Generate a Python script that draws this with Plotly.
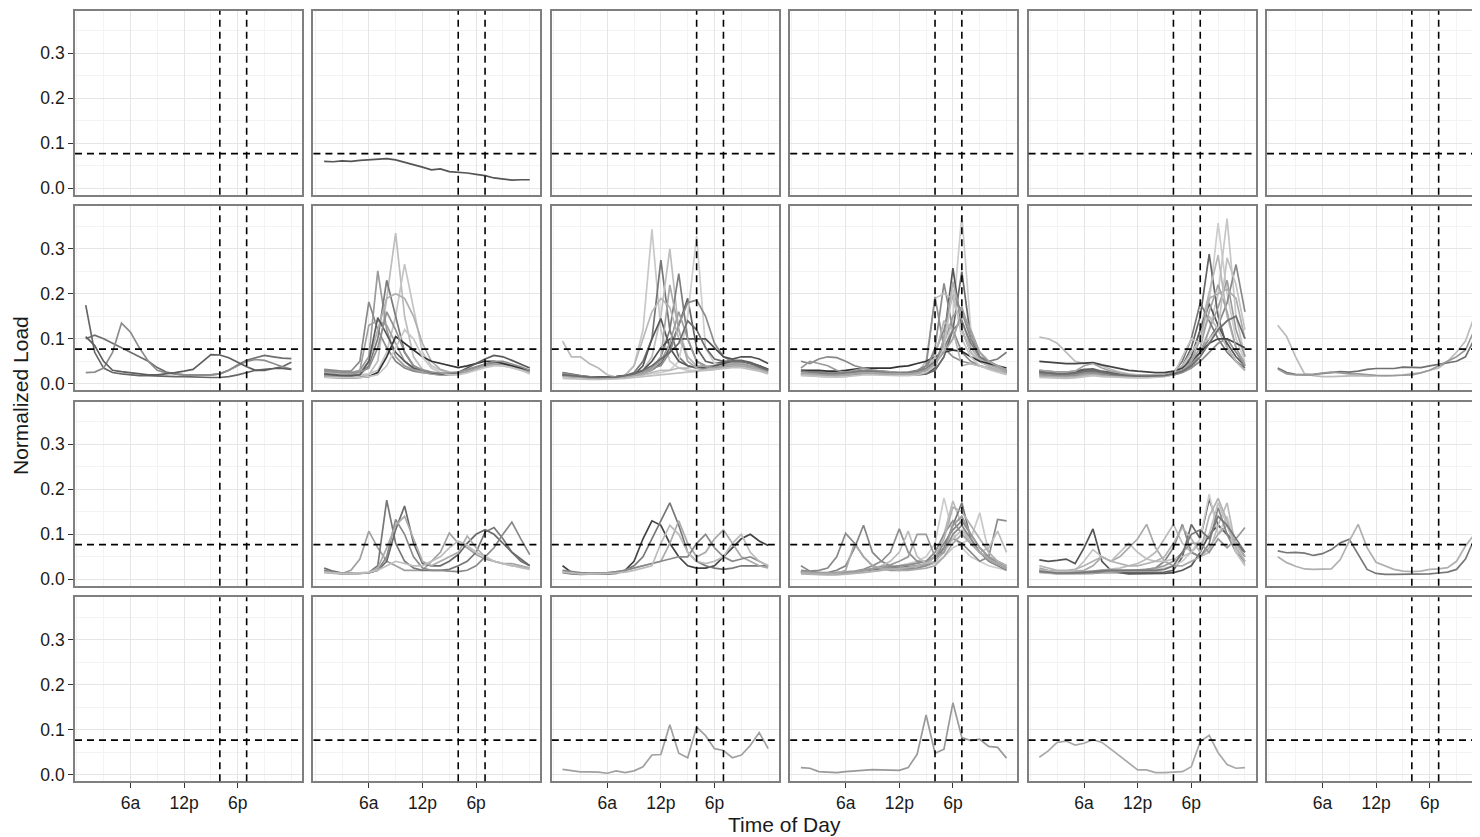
import plotly.graph_objects as go

# hourly normalized load profiles, one facet per (row, col)
hours = list(range(1, 25))
tick_hours = [6, 12, 18]
tick_labels = ["6a", "12p", "6p"]
minor_hours = [0, 3, 9, 15, 21, 24]
y_ticks = [0.0, 0.1, 0.2, 0.3]
y_labels = ["0.0", "0.1", "0.2", "0.3"]
y_minor = [0.05, 0.15, 0.25, 0.35]
peak_window = [16, 19]
avg_load = 0.077

load_r0c1 = [
    [0.060, 0.059, 0.061, 0.060, 0.062, 0.063, 0.065, 0.066, 0.063, 0.058, 0.052, 0.047,
     0.041, 0.043, 0.037, 0.036, 0.034, 0.031, 0.028, 0.023, 0.020, 0.018, 0.019, 0.019],
]
shade_r0c1 = ["#555555"]

load_r1c0 = [
    [0.175, 0.07, 0.035, 0.025, 0.022, 0.02, 0.018, 0.018, 0.017, 0.017, 0.016, 0.016,
     0.015, 0.015, 0.014, 0.014, 0.016, 0.02, 0.025, 0.03, 0.032, 0.034, 0.038, 0.048],
    [0.1, 0.108, 0.1, 0.09, 0.08, 0.07, 0.06, 0.05, 0.036, 0.026, 0.022, 0.02,
     0.02, 0.02, 0.02, 0.022, 0.03, 0.042, 0.052, 0.058, 0.063, 0.06, 0.057, 0.056],
    [0.025, 0.026, 0.035, 0.07, 0.135, 0.115, 0.08, 0.05, 0.03, 0.024, 0.022, 0.02,
     0.02, 0.02, 0.02, 0.022, 0.03, 0.04, 0.05, 0.054, 0.052, 0.045, 0.038, 0.033],
    [0.105, 0.085, 0.05, 0.03, 0.027, 0.025, 0.022, 0.02, 0.02, 0.022, 0.025, 0.028,
     0.032, 0.048, 0.065, 0.064, 0.058, 0.048, 0.038, 0.03, 0.03, 0.034, 0.034, 0.032],
]
shade_r1c0 = ["#666666", "#6e6e6e", "#8c8c8c", "#5e5e5e"]

load_r1c1 = [
    [0.02, 0.018, 0.016, 0.016, 0.016, 0.02, 0.05, 0.19, 0.335, 0.15, 0.06, 0.032,
     0.026, 0.022, 0.02, 0.022, 0.026, 0.032, 0.038, 0.042, 0.04, 0.036, 0.03, 0.024],
    [0.025, 0.022, 0.02, 0.02, 0.02, 0.022, 0.03, 0.07, 0.15, 0.266, 0.17, 0.07,
     0.04, 0.03, 0.025, 0.025, 0.028, 0.034, 0.04, 0.045, 0.045, 0.04, 0.035, 0.03],
    [0.03, 0.028, 0.025, 0.025, 0.03, 0.06, 0.251, 0.12, 0.06, 0.04, 0.03, 0.026,
     0.024, 0.022, 0.022, 0.024, 0.028, 0.034, 0.04, 0.044, 0.044, 0.04, 0.034, 0.028],
    [0.032, 0.03, 0.028, 0.028, 0.05, 0.182, 0.12, 0.08, 0.05, 0.035, 0.028, 0.025,
     0.022, 0.02, 0.02, 0.022, 0.028, 0.035, 0.042, 0.046, 0.045, 0.04, 0.034, 0.026],
    [0.02, 0.02, 0.018, 0.018, 0.02, 0.04, 0.1, 0.23, 0.15, 0.07, 0.04, 0.03,
     0.025, 0.022, 0.02, 0.022, 0.028, 0.036, 0.044, 0.048, 0.046, 0.04, 0.034, 0.028],
    [0.025, 0.022, 0.02, 0.02, 0.025, 0.05, 0.12, 0.19, 0.2, 0.19, 0.15, 0.09,
     0.05, 0.032, 0.026, 0.025, 0.028, 0.034, 0.04, 0.044, 0.044, 0.04, 0.034, 0.026],
    [0.02, 0.02, 0.018, 0.02, 0.03, 0.13, 0.14, 0.13, 0.09, 0.05, 0.032, 0.026,
     0.022, 0.02, 0.02, 0.022, 0.026, 0.032, 0.038, 0.042, 0.042, 0.038, 0.032, 0.025],
    [0.015, 0.014, 0.013, 0.013, 0.014, 0.016, 0.025, 0.06, 0.105, 0.09, 0.075, 0.06,
     0.05, 0.045, 0.04, 0.036, 0.04, 0.045, 0.05, 0.05, 0.045, 0.04, 0.035, 0.03],
    [0.022, 0.02, 0.018, 0.018, 0.02, 0.05, 0.147, 0.11, 0.07, 0.05, 0.035, 0.03,
     0.025, 0.022, 0.022, 0.025, 0.035, 0.045, 0.055, 0.063, 0.06, 0.052, 0.044, 0.035],
    [0.015, 0.014, 0.013, 0.013, 0.014, 0.016, 0.02, 0.04, 0.08, 0.12, 0.1, 0.06,
     0.035, 0.025, 0.02, 0.02, 0.024, 0.03, 0.036, 0.04, 0.04, 0.036, 0.03, 0.022],
    [0.028, 0.026, 0.024, 0.024, 0.026, 0.035, 0.08, 0.16, 0.12, 0.07, 0.04, 0.03,
     0.026, 0.024, 0.024, 0.026, 0.032, 0.038, 0.045, 0.05, 0.05, 0.044, 0.038, 0.03],
]
shade_r1c1 = ["#bdbdbd", "#c4c4c4", "#9a9a9a", "#8a8a8a", "#7a7a7a", "#b0b0b0",
              "#a0a0a0", "#353535", "#5a5a5a", "#c8c8c8", "#909090"]

load_r1c2 = [
    [0.02, 0.017, 0.015, 0.013, 0.012, 0.013, 0.015, 0.02, 0.04, 0.12, 0.343, 0.12,
     0.05, 0.035, 0.03, 0.03, 0.032, 0.035, 0.04, 0.045, 0.045, 0.04, 0.035, 0.028],
    [0.02, 0.018, 0.015, 0.013, 0.012, 0.012, 0.014, 0.018, 0.025, 0.05, 0.1, 0.275,
     0.12, 0.06, 0.04, 0.035, 0.035, 0.038, 0.042, 0.045, 0.045, 0.04, 0.035, 0.03],
    [0.018, 0.016, 0.014, 0.013, 0.012, 0.012, 0.013, 0.016, 0.02, 0.03, 0.06, 0.15,
     0.3, 0.12, 0.06, 0.04, 0.035, 0.035, 0.038, 0.04, 0.04, 0.036, 0.032, 0.026],
    [0.022, 0.019, 0.016, 0.014, 0.013, 0.013, 0.014, 0.016, 0.02, 0.025, 0.035, 0.06,
     0.12, 0.245, 0.1, 0.05, 0.04, 0.04, 0.045, 0.05, 0.05, 0.045, 0.04, 0.03],
    [0.025, 0.021, 0.018, 0.016, 0.015, 0.015, 0.016, 0.018, 0.02, 0.025, 0.03, 0.045,
     0.08, 0.13, 0.19, 0.08, 0.05, 0.045, 0.048, 0.052, 0.052, 0.048, 0.04, 0.032],
    [0.02, 0.018, 0.016, 0.014, 0.013, 0.013, 0.014, 0.016, 0.018, 0.02, 0.022, 0.025,
     0.03, 0.05, 0.15, 0.328, 0.08, 0.045, 0.04, 0.042, 0.042, 0.038, 0.032, 0.025],
    [0.024, 0.02, 0.017, 0.015, 0.014, 0.014, 0.015, 0.018, 0.022, 0.028, 0.035, 0.04,
     0.07, 0.13, 0.18, 0.186, 0.15, 0.09, 0.06, 0.05, 0.05, 0.045, 0.04, 0.03],
    [0.02, 0.018, 0.016, 0.014, 0.013, 0.013, 0.014, 0.018, 0.04, 0.1, 0.16, 0.19,
     0.17, 0.1, 0.06, 0.04, 0.035, 0.036, 0.04, 0.044, 0.044, 0.04, 0.034, 0.028],
    [0.02, 0.018, 0.016, 0.015, 0.015, 0.015, 0.016, 0.018, 0.022, 0.03, 0.05, 0.08,
     0.1, 0.1, 0.1, 0.1, 0.1, 0.08, 0.06, 0.055, 0.06, 0.06, 0.055, 0.045],
    [0.095, 0.06, 0.06, 0.045, 0.035, 0.02, 0.015, 0.015, 0.018, 0.02, 0.025, 0.03,
     0.03, 0.035, 0.035, 0.04, 0.04, 0.04, 0.045, 0.045, 0.045, 0.04, 0.035, 0.03],
    [0.018, 0.016, 0.014, 0.013, 0.013, 0.013, 0.014, 0.016, 0.02, 0.04, 0.1, 0.145,
     0.08, 0.05, 0.04, 0.036, 0.036, 0.04, 0.045, 0.05, 0.05, 0.046, 0.04, 0.032],
    [0.02, 0.018, 0.016, 0.014, 0.013, 0.013, 0.014, 0.016, 0.02, 0.025, 0.035, 0.05,
     0.09, 0.16, 0.1, 0.05, 0.038, 0.036, 0.04, 0.044, 0.044, 0.04, 0.034, 0.028],
    [0.016, 0.015, 0.014, 0.013, 0.012, 0.012, 0.013, 0.015, 0.018, 0.022, 0.03, 0.06,
     0.22, 0.12, 0.05, 0.035, 0.03, 0.032, 0.036, 0.04, 0.04, 0.036, 0.03, 0.024],
    [0.012, 0.011, 0.01, 0.01, 0.01, 0.01, 0.011, 0.012, 0.014, 0.016, 0.018, 0.02,
     0.022, 0.024, 0.026, 0.028, 0.03, 0.032, 0.034, 0.036, 0.036, 0.032, 0.028, 0.022],
    [0.02, 0.018, 0.016, 0.015, 0.014, 0.014, 0.015, 0.018, 0.022, 0.03, 0.04, 0.055,
     0.07, 0.09, 0.14, 0.12, 0.08, 0.055, 0.05, 0.05, 0.05, 0.045, 0.038, 0.03],
]
shade_r1c2 = ["#c8c8c8", "#767676", "#bebebe", "#7e7e7e", "#646464", "#cfcfcf",
              "#8c8c8c", "#b8b8b8", "#505050", "#bababa", "#585858", "#9c9c9c",
              "#a8a8a8", "#c0c0c0", "#6c6c6c"]

load_r1c3 = [
    [0.02, 0.018, 0.016, 0.015, 0.015, 0.016, 0.02, 0.022, 0.022, 0.022, 0.02, 0.02,
     0.02, 0.02, 0.022, 0.03, 0.06, 0.15, 0.375, 0.12, 0.06, 0.04, 0.03, 0.025],
    [0.025, 0.022, 0.02, 0.02, 0.02, 0.022, 0.025, 0.026, 0.025, 0.024, 0.022, 0.022,
     0.022, 0.022, 0.022, 0.035, 0.1, 0.257, 0.12, 0.07, 0.05, 0.04, 0.032, 0.026],
    [0.022, 0.02, 0.019, 0.018, 0.018, 0.02, 0.022, 0.024, 0.024, 0.022, 0.02, 0.02,
     0.02, 0.02, 0.022, 0.03, 0.06, 0.12, 0.249, 0.1, 0.06, 0.045, 0.036, 0.028],
    [0.03, 0.028, 0.026, 0.025, 0.025, 0.026, 0.028, 0.03, 0.03, 0.028, 0.026, 0.025,
     0.025, 0.026, 0.03, 0.08, 0.223, 0.12, 0.07, 0.05, 0.04, 0.035, 0.03, 0.024],
    [0.024, 0.022, 0.02, 0.019, 0.019, 0.02, 0.022, 0.024, 0.024, 0.023, 0.022, 0.022,
     0.022, 0.024, 0.05, 0.19, 0.2, 0.19, 0.12, 0.07, 0.05, 0.04, 0.032, 0.025],
    [0.02, 0.019, 0.018, 0.017, 0.017, 0.018, 0.02, 0.022, 0.022, 0.021, 0.02, 0.02,
     0.02, 0.022, 0.04, 0.193, 0.08, 0.06, 0.05, 0.045, 0.04, 0.035, 0.03, 0.024],
    [0.026, 0.024, 0.022, 0.021, 0.021, 0.022, 0.024, 0.026, 0.026, 0.025, 0.024, 0.024,
     0.024, 0.025, 0.028, 0.04, 0.1, 0.227, 0.14, 0.08, 0.055, 0.045, 0.036, 0.028],
    [0.03, 0.03, 0.03, 0.028, 0.028, 0.03, 0.032, 0.035, 0.035, 0.035, 0.035, 0.038,
     0.04, 0.045, 0.05, 0.06, 0.07, 0.075, 0.072, 0.06, 0.05, 0.045, 0.04, 0.035],
    [0.05, 0.045, 0.055, 0.06, 0.058, 0.05, 0.04, 0.035, 0.03, 0.028, 0.025, 0.025,
     0.026, 0.03, 0.04, 0.07, 0.12, 0.2, 0.16, 0.1, 0.07, 0.05, 0.04, 0.03],
    [0.035, 0.05, 0.045, 0.04, 0.03, 0.025, 0.03, 0.035, 0.03, 0.028, 0.026, 0.025,
     0.025, 0.026, 0.03, 0.05, 0.09, 0.15, 0.17, 0.11, 0.07, 0.05, 0.04, 0.03],
    [0.022, 0.02, 0.019, 0.018, 0.018, 0.02, 0.024, 0.026, 0.025, 0.024, 0.022, 0.022,
     0.022, 0.024, 0.03, 0.06, 0.14, 0.12, 0.04, 0.045, 0.04, 0.036, 0.03, 0.022],
    [0.028, 0.026, 0.024, 0.022, 0.022, 0.024, 0.026, 0.028, 0.028, 0.026, 0.024, 0.024,
     0.025, 0.028, 0.034, 0.05, 0.08, 0.12, 0.14, 0.09, 0.06, 0.05, 0.055, 0.07],
    [0.018, 0.017, 0.016, 0.015, 0.015, 0.016, 0.018, 0.02, 0.02, 0.019, 0.018, 0.018,
     0.018, 0.02, 0.025, 0.04, 0.08, 0.21, 0.1, 0.06, 0.04, 0.032, 0.026, 0.02],
    [0.024, 0.022, 0.02, 0.019, 0.019, 0.02, 0.022, 0.024, 0.024, 0.023, 0.022, 0.022,
     0.022, 0.024, 0.03, 0.045, 0.07, 0.1, 0.16, 0.12, 0.07, 0.05, 0.04, 0.03],
]
shade_r1c3 = ["#cccccc", "#555555", "#676767", "#8a8a8a", "#bdbdbd", "#8f8f8f",
              "#ababab", "#333333", "#888888", "#9a9a9a", "#b5b5b5", "#7d7d7d",
              "#c4c4c4", "#a2a2a2"]

load_r1c4 = [
    [0.02, 0.018, 0.016, 0.016, 0.018, 0.022, 0.024, 0.02, 0.018, 0.016, 0.015, 0.015,
     0.015, 0.016, 0.018, 0.022, 0.03, 0.05, 0.1, 0.18, 0.357, 0.2, 0.1, 0.05],
    [0.022, 0.02, 0.018, 0.018, 0.02, 0.025, 0.026, 0.022, 0.02, 0.018, 0.016, 0.016,
     0.016, 0.017, 0.018, 0.02, 0.025, 0.035, 0.06, 0.12, 0.2, 0.367, 0.15, 0.06],
    [0.03, 0.028, 0.026, 0.026, 0.028, 0.032, 0.033, 0.028, 0.025, 0.022, 0.02, 0.019,
     0.018, 0.018, 0.02, 0.025, 0.04, 0.08, 0.15, 0.288, 0.15, 0.08, 0.05, 0.035],
    [0.025, 0.022, 0.02, 0.02, 0.022, 0.026, 0.028, 0.024, 0.021, 0.019, 0.018, 0.017,
     0.017, 0.018, 0.019, 0.022, 0.03, 0.045, 0.07, 0.1, 0.13, 0.18, 0.265, 0.16],
    [0.018, 0.017, 0.016, 0.016, 0.017, 0.02, 0.022, 0.02, 0.018, 0.016, 0.015, 0.015,
     0.015, 0.016, 0.018, 0.022, 0.035, 0.06, 0.12, 0.2, 0.286, 0.15, 0.08, 0.04],
    [0.028, 0.026, 0.024, 0.024, 0.026, 0.03, 0.03, 0.026, 0.023, 0.021, 0.02, 0.019,
     0.018, 0.018, 0.019, 0.022, 0.03, 0.06, 0.12, 0.178, 0.13, 0.09, 0.06, 0.04],
    [0.02, 0.018, 0.017, 0.017, 0.018, 0.022, 0.024, 0.021, 0.019, 0.017, 0.016, 0.016,
     0.016, 0.017, 0.018, 0.02, 0.026, 0.04, 0.07, 0.12, 0.17, 0.23, 0.12, 0.06],
    [0.024, 0.022, 0.02, 0.02, 0.022, 0.026, 0.027, 0.023, 0.02, 0.018, 0.017, 0.016,
     0.016, 0.017, 0.019, 0.025, 0.05, 0.1, 0.18, 0.14, 0.1, 0.07, 0.05, 0.03],
    [0.016, 0.015, 0.014, 0.014, 0.015, 0.018, 0.02, 0.018, 0.016, 0.015, 0.014, 0.014,
     0.014, 0.015, 0.017, 0.02, 0.03, 0.05, 0.1, 0.19, 0.2, 0.21, 0.19, 0.1],
    [0.022, 0.02, 0.019, 0.019, 0.02, 0.024, 0.025, 0.022, 0.02, 0.018, 0.016, 0.016,
     0.016, 0.016, 0.018, 0.02, 0.025, 0.035, 0.05, 0.07, 0.09, 0.1, 0.07, 0.04],
    [0.104, 0.1, 0.09, 0.07, 0.05, 0.045, 0.046, 0.04, 0.032, 0.026, 0.022, 0.02,
     0.019, 0.019, 0.02, 0.025, 0.04, 0.07, 0.1, 0.15, 0.12, 0.08, 0.05, 0.03],
    [0.05, 0.048, 0.046, 0.045, 0.045, 0.046, 0.047, 0.042, 0.038, 0.034, 0.03, 0.028,
     0.026, 0.025, 0.025, 0.028, 0.035, 0.05, 0.07, 0.09, 0.1, 0.1, 0.09, 0.08],
    [0.03, 0.028, 0.026, 0.026, 0.028, 0.04, 0.045, 0.035, 0.028, 0.024, 0.02, 0.018,
     0.017, 0.017, 0.018, 0.022, 0.03, 0.05, 0.08, 0.16, 0.22, 0.16, 0.08, 0.045],
    [0.014, 0.013, 0.012, 0.012, 0.013, 0.016, 0.018, 0.016, 0.015, 0.014, 0.013, 0.013,
     0.013, 0.014, 0.016, 0.02, 0.06, 0.1, 0.09, 0.1, 0.12, 0.28, 0.22, 0.12],
    [0.026, 0.024, 0.022, 0.022, 0.024, 0.028, 0.03, 0.026, 0.022, 0.02, 0.018, 0.017,
     0.017, 0.017, 0.018, 0.022, 0.028, 0.04, 0.06, 0.09, 0.12, 0.14, 0.15, 0.1],
]
shade_r1c4 = ["#cccccc", "#c6c6c6", "#666666", "#888888", "#b8b8b8", "#575757",
              "#9c9c9c", "#7a7a7a", "#acacac", "#8e8e8e", "#bbbbbb", "#444444",
              "#a4a4a4", "#c2c2c2", "#6e6e6e"]

load_r1c5 = [
    [0.13, 0.105, 0.06, 0.022, 0.018, 0.016, 0.016, 0.017, 0.018, 0.018, 0.017, 0.017,
     0.018, 0.018, 0.02, 0.022, 0.025, 0.03, 0.035, 0.05, 0.07, 0.095, 0.15, 0.34],
    [0.035, 0.025, 0.021, 0.02, 0.021, 0.023, 0.025, 0.027, 0.026, 0.028, 0.032, 0.034,
     0.034, 0.034, 0.037, 0.036, 0.036, 0.04, 0.043, 0.047, 0.05, 0.06, 0.1, 0.3],
    [0.033, 0.022, 0.02, 0.02, 0.021, 0.024, 0.026, 0.024, 0.022, 0.022, 0.02, 0.019,
     0.018, 0.018, 0.019, 0.02, 0.024, 0.03, 0.04, 0.05, 0.06, 0.075, 0.12, 0.32],
]
shade_r1c5 = ["#bbbbbb", "#707070", "#999999"]

load_r2c1 = [
    [0.02, 0.015, 0.013, 0.02, 0.045, 0.107, 0.07, 0.04, 0.03, 0.02, 0.02, 0.02,
     0.04, 0.06, 0.103, 0.08, 0.07, 0.055, 0.045, 0.04, 0.035, 0.035, 0.03, 0.025],
    [0.02, 0.015, 0.012, 0.012, 0.013, 0.015, 0.03, 0.176, 0.08, 0.04, 0.025, 0.02,
     0.02, 0.02, 0.022, 0.03, 0.04, 0.06, 0.105, 0.115, 0.09, 0.06, 0.04, 0.03],
    [0.025, 0.018, 0.014, 0.013, 0.013, 0.014, 0.02, 0.04, 0.11, 0.163, 0.08, 0.035,
     0.03, 0.03, 0.04, 0.055, 0.08, 0.1, 0.11, 0.1, 0.08, 0.06, 0.045, 0.03],
    [0.018, 0.015, 0.013, 0.013, 0.014, 0.015, 0.02, 0.05, 0.133, 0.1, 0.05, 0.025,
     0.02, 0.02, 0.018, 0.017, 0.02, 0.03, 0.05, 0.07, 0.1, 0.127, 0.09, 0.055],
    [0.015, 0.013, 0.012, 0.012, 0.013, 0.015, 0.025, 0.07, 0.12, 0.14, 0.09, 0.04,
     0.03, 0.04, 0.05, 0.06, 0.096, 0.07, 0.05, 0.04, 0.035, 0.03, 0.028, 0.025],
    [0.016, 0.014, 0.013, 0.013, 0.014, 0.016, 0.02, 0.03, 0.04, 0.035, 0.03, 0.03,
     0.04, 0.05, 0.07, 0.085, 0.075, 0.06, 0.05, 0.04, 0.035, 0.03, 0.026, 0.022],
]
shade_r2c1 = ["#a0a0a0", "#777777", "#6a6a6a", "#8a8a8a", "#acacac", "#bdbdbd"]

load_r2c2 = [
    [0.03, 0.015, 0.013, 0.012, 0.012, 0.012, 0.013, 0.02, 0.04, 0.09, 0.13, 0.12,
     0.08, 0.05, 0.03, 0.025, 0.025, 0.03, 0.05, 0.07, 0.09, 0.1, 0.085, 0.075],
    [0.015, 0.012, 0.011, 0.011, 0.012, 0.013, 0.015, 0.02, 0.03, 0.05, 0.09, 0.13,
     0.17, 0.12, 0.06, 0.04, 0.03, 0.025, 0.022, 0.025, 0.03, 0.03, 0.03, 0.03],
    [0.018, 0.015, 0.013, 0.012, 0.012, 0.013, 0.015, 0.02, 0.025, 0.03, 0.035, 0.04,
     0.08, 0.13, 0.08, 0.05, 0.06, 0.09, 0.11, 0.08, 0.05, 0.04, 0.03, 0.025],
    [0.02, 0.017, 0.015, 0.014, 0.014, 0.015, 0.017, 0.02, 0.025, 0.03, 0.035, 0.04,
     0.045, 0.05, 0.05, 0.08, 0.1, 0.07, 0.05, 0.04, 0.045, 0.05, 0.04, 0.03],
    [0.016, 0.014, 0.012, 0.012, 0.012, 0.013, 0.014, 0.016, 0.02, 0.025, 0.03, 0.08,
     0.12, 0.1, 0.06, 0.04, 0.035, 0.04, 0.05, 0.08, 0.1, 0.06, 0.04, 0.03],
]
shade_r2c2 = ["#444444", "#777777", "#aaaaaa", "#888888", "#bbbbbb"]

load_r2c3 = [
    [0.015, 0.013, 0.012, 0.012, 0.012, 0.013, 0.015, 0.018, 0.02, 0.022, 0.025, 0.03,
     0.035, 0.04, 0.05, 0.08, 0.181, 0.1, 0.07, 0.05, 0.04, 0.03, 0.025, 0.02],
    [0.018, 0.015, 0.013, 0.013, 0.013, 0.014, 0.016, 0.02, 0.022, 0.024, 0.026, 0.03,
     0.032, 0.035, 0.04, 0.06, 0.1, 0.174, 0.12, 0.08, 0.06, 0.045, 0.035, 0.025],
    [0.016, 0.014, 0.012, 0.012, 0.012, 0.013, 0.015, 0.018, 0.02, 0.022, 0.024, 0.026,
     0.028, 0.03, 0.032, 0.04, 0.07, 0.12, 0.17, 0.09, 0.06, 0.045, 0.035, 0.025],
    [0.014, 0.012, 0.011, 0.011, 0.011, 0.012, 0.014, 0.016, 0.018, 0.02, 0.022, 0.024,
     0.026, 0.028, 0.03, 0.035, 0.05, 0.07, 0.08, 0.09, 0.148, 0.06, 0.04, 0.03],
    [0.018, 0.016, 0.014, 0.013, 0.013, 0.014, 0.016, 0.02, 0.024, 0.026, 0.028, 0.03,
     0.032, 0.036, 0.04, 0.05, 0.07, 0.09, 0.08, 0.06, 0.04, 0.05, 0.133, 0.13],
    [0.03, 0.018, 0.02, 0.025, 0.05, 0.102, 0.08, 0.05, 0.03, 0.025, 0.02, 0.02,
     0.022, 0.025, 0.03, 0.04, 0.06, 0.1, 0.12, 0.09, 0.06, 0.04, 0.03, 0.02],
    [0.02, 0.017, 0.015, 0.015, 0.02, 0.03, 0.07, 0.12, 0.06, 0.04, 0.03, 0.025,
     0.025, 0.03, 0.035, 0.05, 0.08, 0.11, 0.13, 0.1, 0.07, 0.05, 0.035, 0.025],
    [0.018, 0.016, 0.014, 0.014, 0.015, 0.016, 0.018, 0.022, 0.03, 0.04, 0.06, 0.112,
     0.06, 0.04, 0.04, 0.06, 0.1, 0.13, 0.1, 0.08, 0.06, 0.045, 0.035, 0.025],
    [0.016, 0.014, 0.013, 0.013, 0.014, 0.015, 0.017, 0.02, 0.024, 0.03, 0.04, 0.06,
     0.107, 0.05, 0.035, 0.04, 0.06, 0.09, 0.11, 0.08, 0.06, 0.07, 0.107, 0.06],
    [0.017, 0.015, 0.013, 0.013, 0.014, 0.015, 0.017, 0.02, 0.024, 0.028, 0.032, 0.04,
     0.05, 0.1, 0.1, 0.05, 0.06, 0.12, 0.14, 0.1, 0.07, 0.05, 0.04, 0.03],
    [0.015, 0.013, 0.012, 0.012, 0.013, 0.02, 0.08, 0.05, 0.03, 0.025, 0.022, 0.02,
     0.02, 0.022, 0.025, 0.03, 0.05, 0.08, 0.1, 0.08, 0.06, 0.045, 0.035, 0.025],
    [0.012, 0.011, 0.01, 0.01, 0.01, 0.011, 0.013, 0.015, 0.018, 0.02, 0.022, 0.024,
     0.026, 0.03, 0.035, 0.05, 0.09, 0.16, 0.15, 0.12, 0.09, 0.06, 0.04, 0.03],
]
shade_r2c3 = ["#cccccc", "#bbbbbb", "#777777", "#c8c8c8", "#8c8c8c", "#8a8a8a",
              "#858585", "#8f8f8f", "#bdbdbd", "#9a9a9a", "#aaaaaa", "#b0b0b0"]

load_r2c4 = [
    [0.043, 0.04, 0.042, 0.045, 0.035, 0.07, 0.112, 0.04, 0.02, 0.015, 0.012, 0.012,
     0.012, 0.012, 0.013, 0.015, 0.02, 0.03, 0.06, 0.1, 0.12, 0.1, 0.08, 0.05],
    [0.02, 0.015, 0.012, 0.012, 0.012, 0.012, 0.013, 0.015, 0.015, 0.015, 0.015, 0.015,
     0.015, 0.015, 0.016, 0.02, 0.05, 0.122, 0.09, 0.178, 0.12, 0.1, 0.08, 0.06],
    [0.015, 0.013, 0.012, 0.012, 0.012, 0.013, 0.014, 0.015, 0.016, 0.017, 0.018, 0.019,
     0.02, 0.022, 0.025, 0.03, 0.04, 0.06, 0.09, 0.189, 0.1, 0.14, 0.08, 0.04],
    [0.025, 0.02, 0.018, 0.016, 0.018, 0.02, 0.03, 0.05, 0.04, 0.05, 0.07, 0.09,
     0.122, 0.07, 0.04, 0.03, 0.03, 0.04, 0.05, 0.07, 0.1, 0.12, 0.08, 0.05],
    [0.018, 0.016, 0.015, 0.015, 0.015, 0.016, 0.018, 0.02, 0.022, 0.025, 0.03, 0.035,
     0.045, 0.06, 0.09, 0.122, 0.08, 0.06, 0.05, 0.06, 0.12, 0.17, 0.07, 0.035],
    [0.02, 0.018, 0.016, 0.015, 0.015, 0.016, 0.018, 0.02, 0.02, 0.02, 0.02, 0.02,
     0.022, 0.025, 0.04, 0.07, 0.122, 0.06, 0.05, 0.08, 0.159, 0.1, 0.06, 0.04],
    [0.016, 0.014, 0.013, 0.013, 0.013, 0.014, 0.015, 0.016, 0.017, 0.018, 0.019, 0.02,
     0.022, 0.025, 0.03, 0.04, 0.06, 0.08, 0.08, 0.06, 0.09, 0.07, 0.09, 0.115],
    [0.02, 0.018, 0.017, 0.017, 0.02, 0.04, 0.066, 0.05, 0.04, 0.06, 0.08, 0.06,
     0.045, 0.04, 0.04, 0.045, 0.05, 0.06, 0.08, 0.1, 0.17, 0.12, 0.06, 0.03],
    [0.03, 0.025, 0.02, 0.02, 0.022, 0.03, 0.04, 0.05, 0.04, 0.035, 0.03, 0.03,
     0.035, 0.04, 0.05, 0.08, 0.115, 0.09, 0.06, 0.14, 0.18, 0.13, 0.07, 0.04],
    [0.018, 0.016, 0.014, 0.014, 0.014, 0.015, 0.016, 0.018, 0.02, 0.02, 0.02, 0.02,
     0.02, 0.02, 0.022, 0.03, 0.06, 0.1, 0.11, 0.09, 0.14, 0.12, 0.09, 0.06],
]
shade_r2c4 = ["#555555", "#666666", "#cccccc", "#aaaaaa", "#bbbbbb", "#888888",
              "#999999", "#c0c0c0", "#b2b2b2", "#777777"]

load_r2c5 = [
    [0.063, 0.059, 0.06, 0.058, 0.053, 0.057, 0.066, 0.081, 0.089, 0.055, 0.022, 0.013,
     0.011, 0.011, 0.011, 0.011, 0.011, 0.012, 0.014, 0.016, 0.022, 0.045, 0.09, 0.13],
    [0.05, 0.037, 0.029, 0.023, 0.022, 0.022, 0.023, 0.044, 0.085, 0.122, 0.07, 0.038,
     0.03, 0.022, 0.018, 0.017, 0.018, 0.022, 0.023, 0.026, 0.04, 0.074, 0.1, 0.14],
]
shade_r2c5 = ["#777777", "#b0b0b0"]

load_r3c2 = [
    [0.012, 0.010, 0.0065, 0.0065, 0.006, 0.0035, 0.0087, 0.005, 0.0087, 0.018, 0.044, 0.045,
     0.111, 0.048, 0.038, 0.106, 0.087, 0.058, 0.054, 0.038, 0.044, 0.065, 0.094, 0.058],
]
shade_r3c2 = ["#a0a0a0"]

load_r3c3 = [
    [0.016, 0.0146, 0.0072, 0.0065, 0.005, 0.007, 0.0087, 0.010, 0.0116, 0.011, 0.010, 0.010,
     0.016, 0.046, 0.133, 0.048, 0.057, 0.16, 0.083, 0.076, 0.079, 0.063, 0.061, 0.037],
]
shade_r3c3 = ["#999999"]

load_r3c4 = [
    [0.039, 0.053, 0.072, 0.075, 0.066, 0.07, 0.078, 0.072, 0.057, 0.042, 0.028, 0.011,
     0.011, 0.005, 0.005, 0.0057, 0.007, 0.018, 0.074, 0.088, 0.049, 0.023, 0.0146, 0.016],
]
shade_r3c4 = ["#a8a8a8"]

panels = {
    (0, 1): (load_r0c1, shade_r0c1),
    (1, 0): (load_r1c0, shade_r1c0),
    (1, 1): (load_r1c1, shade_r1c1),
    (1, 2): (load_r1c2, shade_r1c2),
    (1, 3): (load_r1c3, shade_r1c3),
    (1, 4): (load_r1c4, shade_r1c4),
    (1, 5): (load_r1c5, shade_r1c5),
    (2, 1): (load_r2c1, shade_r2c1),
    (2, 2): (load_r2c2, shade_r2c2),
    (2, 3): (load_r2c3, shade_r2c3),
    (2, 4): (load_r2c4, shade_r2c4),
    (2, 5): (load_r2c5, shade_r2c5),
    (3, 2): (load_r3c2, shade_r3c2),
    (3, 3): (load_r3c3, shade_r3c3),
    (3, 4): (load_r3c4, shade_r3c4),
}

# the page body adds an 8px offset, so the figure is drawn 8px smaller
PAGE_OFF = 8
W, H = 1480, 837
L, R, T, B = 75, 0, 10, 55
plot_w, plot_h = W - L - R, H - T - B
font = "Liberation Sans, Arial, Helvetica, sans-serif"
px_per_hour = 8.94
px_per_unit = 450.0

fig = go.Figure()
layout = {}
shapes = []
dash = dict(color="black", width=1.6, dash="7px,5px")

for r in range(4):
    for c in range(6):
        idx = r * 6 + c + 1
        xa = "x" if idx == 1 else f"x{idx}"
        ya = "y" if idx == 1 else f"y{idx}"
        left = 75 + c * 238.4
        right = min(W - R, left + 227)
        top = 10.7 + r * 195.5
        bottom = top + 184
        x_dom = [(left - L) / plot_w, min(1.0, (right - L) / plot_w)]
        y_dom = [1 - (bottom - T) / plot_h, 1 - (top - T) / plot_h]
        x0 = -0.2
        x1 = x0 + (right - left) / px_per_hour
        y0 = -(184 - 177.6) / px_per_unit
        y1 = 177.6 / px_per_unit

        layout["xaxis" if idx == 1 else f"xaxis{idx}"] = dict(
            domain=x_dom, anchor=ya, range=[x0, x1], zeroline=False,
            tickvals=tick_hours, ticktext=tick_labels, showticklabels=(r == 3),
            ticks="outside" if r == 3 else "", ticklen=5, tickcolor="#333333",
            tickfont=dict(size=17.5, color="#1a1a1a", family=font),
            showgrid=True, gridcolor="#e6e6e6", gridwidth=1,
            minor=dict(tickvals=minor_hours, showgrid=True, gridcolor="#f3f3f3", ticks=""),
            showline=True, linecolor="#7f7f7f", linewidth=1.6, mirror=True,
        )
        layout["yaxis" if idx == 1 else f"yaxis{idx}"] = dict(
            domain=y_dom, anchor=xa, range=[y0, y1], zeroline=False,
            tickvals=y_ticks, ticktext=y_labels, showticklabels=(c == 0),
            ticks="outside" if c == 0 else "", ticklen=5, tickcolor="#333333",
            tickfont=dict(size=17.5, color="#1a1a1a", family=font),
            showgrid=True, gridcolor="#e6e6e6", gridwidth=1,
            minor=dict(tickvals=y_minor, showgrid=True, gridcolor="#f3f3f3", ticks=""),
            showline=True, linecolor="#7f7f7f", linewidth=1.6, mirror=(c != 5),
        )

        if (r, c) in panels:
            loads, shades = panels[(r, c)]
            for vals, shade in zip(loads, shades):
                fig.add_trace(go.Scatter(
                    x=hours, y=vals, mode="lines", xaxis=xa, yaxis=ya,
                    line=dict(color=shade, width=1.7), hoverinfo="skip",
                    showlegend=False,
                ))

        for h in peak_window:
            shapes.append(dict(type="line", xref=xa, yref=f"{ya} domain",
                               x0=h, x1=h, y0=0, y1=1, line=dash))
        shapes.append(dict(type="line", xref=f"{xa} domain", yref=ya,
                           x0=0, x1=1, y0=avg_load, y1=avg_load, line=dash))

fig.update_layout(**layout)
fig.update_layout(
    width=W - PAGE_OFF, height=H - PAGE_OFF,
    margin=dict(l=L - PAGE_OFF, r=R, t=T - PAGE_OFF, b=B),
    plot_bgcolor="white", paper_bgcolor="white",
    showlegend=False, shapes=shapes,
    font=dict(family=font, color="#1a1a1a"),
    annotations=[
        dict(text="Time of Day", xref="paper", yref="paper",
             x=(784.5 - L) / plot_w, y=-(824 - (H - B)) / plot_h,
             xanchor="center", yanchor="middle", showarrow=False,
             font=dict(size=21, family=font, color="#1a1a1a")),
        dict(text="Normalized Load", xref="paper", yref="paper",
             x=(20 - L) / plot_w, y=1 - (396 - T) / plot_h, textangle=-90,
             xanchor="center", yanchor="middle", showarrow=False,
             font=dict(size=21, family=font, color="#1a1a1a")),
    ],
)

fig.write_html("out.html")
